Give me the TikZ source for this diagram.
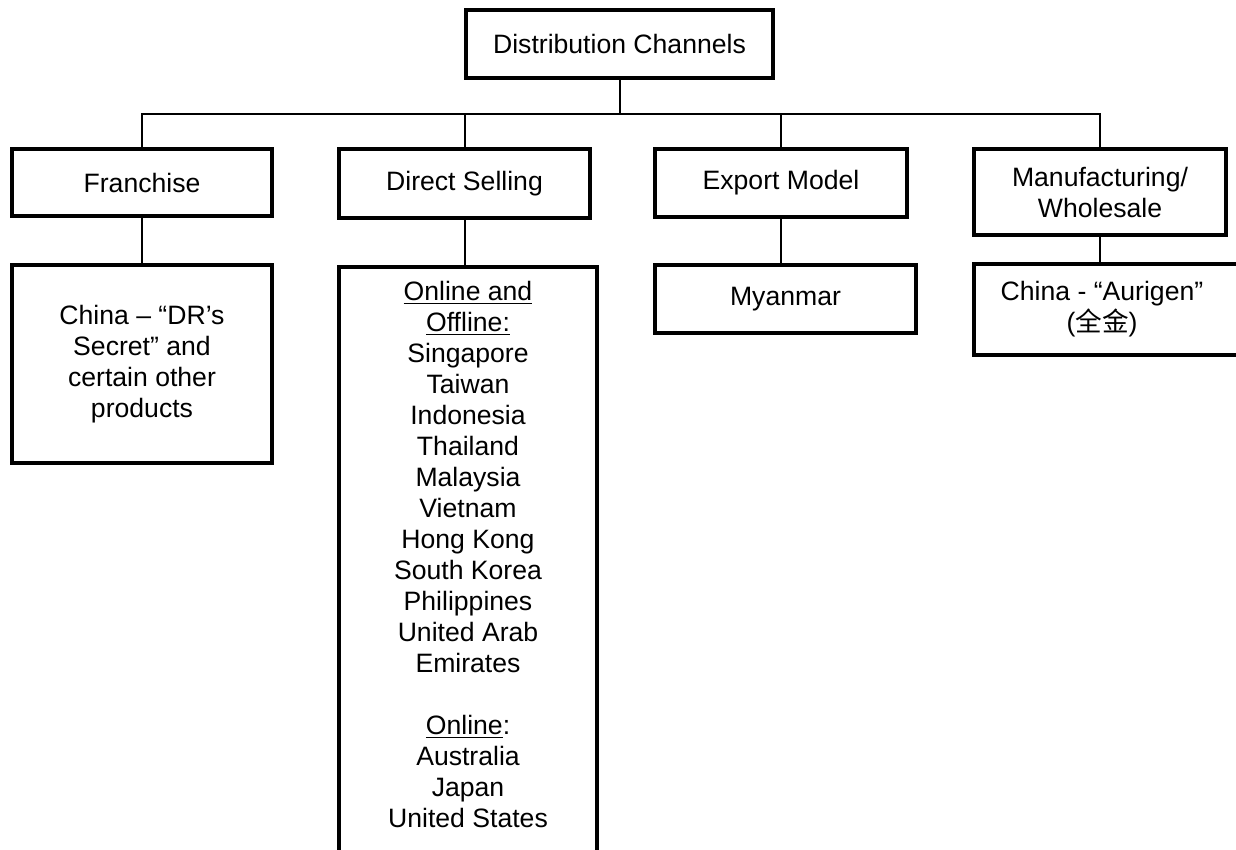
\documentclass[tikz,border=0pt]{standalone}
\usepackage{fontspec}
\setmainfont{Liberation Sans}
\newfontfamily\cjk{Noto Sans CJK SC}
\usepackage{tikz}
\usetikzlibrary{positioning}

\begin{document}
\begin{tikzpicture}[
  x=0.5pt, y=-0.5pt,
  chbox/.style={draw, line width=2pt, align=center, inner sep=2pt,
    font=\fontsize{13.3}{15.5}\selectfont},
  link/.style={line width=1pt}
]
  \clip (0,0) rectangle (1236,850);

  \node[chbox, minimum width=153.5pt, minimum height=34pt] (dc) at (619.5,44) {Distribution Channels};

  \node[chbox, minimum width=130pt, minimum height=33.5pt] (fr) at (142,182.5) {Franchise};
  \node[chbox, minimum width=125.5pt, minimum height=34.5pt] (ds) at (464.5,183.5) {Direct Selling};
  \node[chbox, minimum width=126pt, minimum height=34pt] (em) at (781,183) {Export Model};
  \node[chbox, minimum width=126pt, minimum height=43pt] (mw) at (1100,192) {Manufacturing/\\Wholesale};

  \node[chbox, minimum width=130pt, minimum height=99pt] (frc) at (142,364) {China – “DR’s\\Secret” and\\certain other\\products};
  \node[chbox, minimum width=129pt, anchor=north, inner ysep=7pt] (dsc) at (468,265)
    {\underline{Online and}\\\underline{Offline:}\\Singapore\\Taiwan\\Indonesia\\Thailand\\Malaysia\\Vietnam\\Hong Kong\\South Korea\\Philippines\\United Arab\\Emirates\\[15.5pt]\underline{Online}:\\Australia\\Japan\\United States\\[30pt]\mbox{}};
  \node[chbox, minimum width=130.5pt, minimum height=34pt] (my) at (785.5,299) {Myanmar};
  \node[chbox, minimum width=134pt, minimum height=45.5pt] (mwc) at (1108,309.5) {\hspace*{-6pt}China - “Aurigen”\\\hspace*{-6pt}({\cjk 全金})};

  \coordinate (bus) at (0,114);
  \draw[link] (fr.north) |- (mw.north |- bus) -- (mw.north);
  \draw[link] (dc.south) -- (dc.south |- bus);
  \draw[link] (ds.north) -- (ds.north |- bus);
  \draw[link] (em.north) -- (em.north |- bus);

  \path (fr.south) edge[link] (fr.south |- frc.north)
        (ds.south) edge[link] (ds.south |- dsc.north)
        (em.south) edge[link] (em.south |- my.north)
        (mw.south) edge[link] (mw.south |- mwc.north)
  ;
\end{tikzpicture}
\end{document}
